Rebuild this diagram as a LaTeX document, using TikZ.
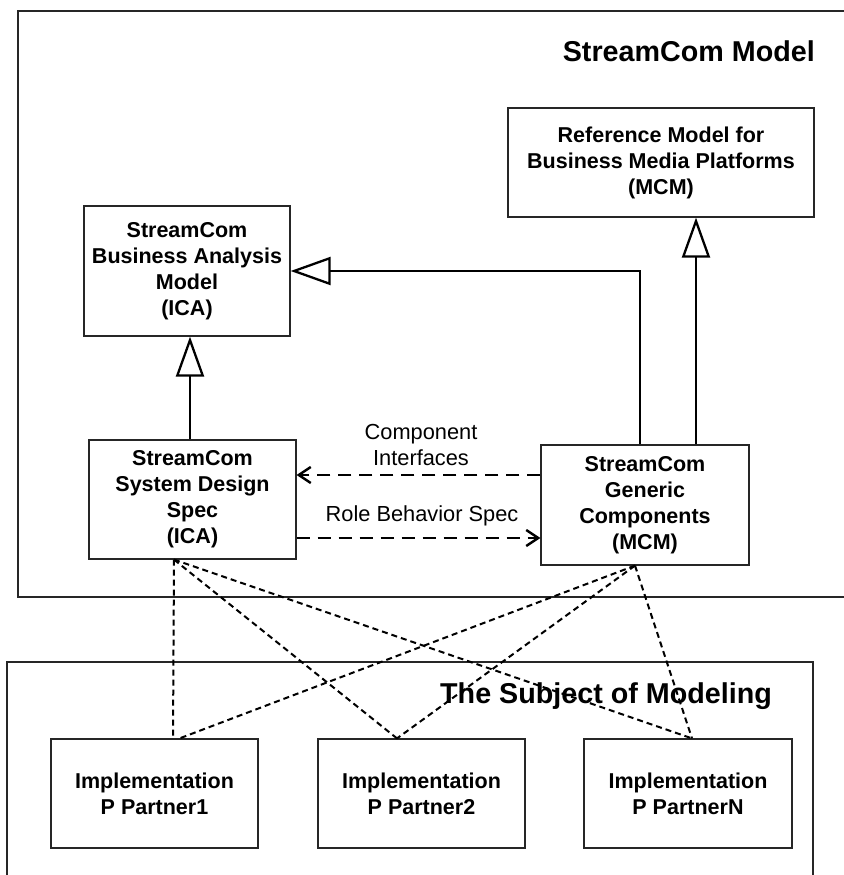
\documentclass[tikz,border=0pt]{standalone}
\usepackage{fontspec}
\setmainfont{Liberation Sans}
\usepackage{tikz}
\usetikzlibrary{arrows.meta, positioning}

\tikzset{
  box/.style = {draw=black!85, line width=1.2pt, align=center, inner sep=0pt,
                font=\bfseries\fontsize{21.5}{26}\selectfont},
  lbl/.style = {align=center, inner sep=0pt, font=\fontsize{21.8}{26}\selectfont},
  ttl/.style = {inner sep=0pt, font=\bfseries\fontsize{28.7}{34}\selectfont},
  gen/.style = {line width=2.3pt, -{Triangle[open, length=40pt, width=28pt, line width=2.3pt]}},
  dep/.style = {line width=2.4pt, dash pattern=on 13pt off 8pt,
                -{Straight Barb[length=12pt, width=16pt, line width=2.4pt]}},
  trace/.style = {line width=2pt, dash pattern=on 6pt off 4pt}
}

\begin{document}
\begin{tikzpicture}[x=1pt, y=-1pt]
  \useasboundingbox (0,0) rectangle (843,875);

  % frames
  \draw[black!85, line width=1.2pt] (18,11) rectangle (870,597);
  \draw[black!85, line width=1.2pt] (7,662) rectangle (813,900);
  \node[ttl, anchor=base east] (tmodel) at (815,62) {StreamCom Model};
  \node[ttl, anchor=base west] (tsubject) at (440,703) {The Subject of Modeling};

  % model elements
  \node[box, minimum width=306pt, minimum height=109pt] (ref) at (661,162.5)
    {Reference Model for\\Business Media Platforms\\(MCM)};
  \node[box, minimum width=206pt, minimum height=130pt] (ba) at (187,271)
    {StreamCom\\Business Analysis\\Model\\(ICA)};
  \node[box, minimum width=207pt, minimum height=119pt] (sds) at (192.5,499.5)
    {StreamCom\\System Design\\Spec\\(ICA)};
  \node[box, minimum width=208pt, minimum height=120pt] (gc) at (645,505)
    {StreamCom\\Generic\\Components\\(MCM)};

  % implementations
  \node[box, minimum width=207pt, minimum height=109pt] (p1) at (154.5,793.5)
    {Implementation\\P Partner1};
  \node[box, minimum width=207pt, minimum height=109pt] (p2) at (421.5,793.5)
    {Implementation\\P Partner2};
  \node[box, minimum width=208pt, minimum height=109pt] (pn) at (688,793.5)
    {Implementation\\P PartnerN};

  % generalisations
  \draw[gen] ([xshift=-5pt]gc.north) |- (ba.east);
  \draw[gen] ([xshift=51pt]gc.north) -- ([xshift=51pt]gc.north |- ref.south);
  \draw[gen] ([xshift=-2.5pt]sds.north) -- ([xshift=-2.5pt]sds.north |- ba.south);

  % dependencies
  \draw[dep] ([yshift=30pt]gc.west) -- ([yshift=30pt]gc.west -| sds.east);
  \draw[dep] ([yshift=-38.5pt]sds.east) -- ([yshift=-38.5pt]sds.east -| gc.west);
  \node[lbl] (ci) at (421,445) {Component\\Interfaces};
  \node[lbl] (rbs) at (422,516) {Role Behavior Spec};

  % traces to the implementations
  \draw[trace] ([xshift=-18.5pt]sds.south) -- ([xshift=18.5pt]p1.north);
  \draw[trace] ([xshift=-18.5pt]sds.south) -- ([xshift=-24.5pt]p2.north);
  \draw[trace] ([xshift=-18.5pt]sds.south) -- ([xshift=4pt]pn.north);
  \draw[trace] ([xshift=-10pt]gc.south) -- ([xshift=25pt]p1.north);
  \draw[trace] ([xshift=-10pt]gc.south) -- ([xshift=-24.5pt]p2.north);
  \draw[trace] ([xshift=-10pt]gc.south) -- ([xshift=4pt]pn.north);
\end{tikzpicture}
\end{document}
